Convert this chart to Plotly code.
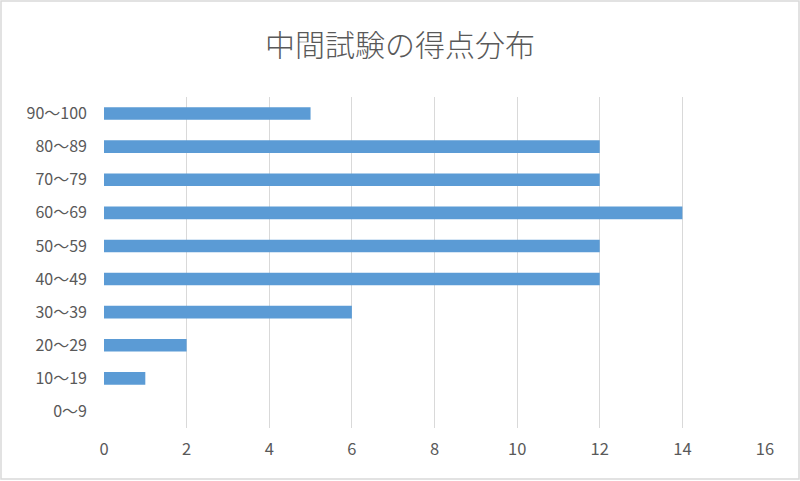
import plotly.graph_objects as go

# 得点区分と人数
categories = ['0〜9', '10〜19', '20〜29', '30〜39', '40〜49',
              '50〜59', '60〜69', '70〜79', '80〜89', '90〜100']
counts = [0, 1, 2, 6, 12, 12, 14, 12, 12, 5]
x_ticks = [0, 2, 4, 6, 8, 10, 12, 14, 16]

FONT = "Noto Sans CJK JP, Noto Sans, sans-serif"
GRAY = "#595959"

fig = go.Figure()
fig.add_trace(go.Bar(
    x=counts,
    y=categories,
    orientation='h',
    marker=dict(color='#5b9bd5', line=dict(width=0)),
    hoverinfo='x+y',
))

# 余白（ピクセル）
L, R, T, B = 104, 35, 97, 53
W, H = 800 - L - R, 481 - T - B

fig.update_layout(
    width=800, height=481,
    title=dict(text="中間試験の得点分布", x=0.5, xanchor='center', y=0.905, yanchor='middle',
               font=dict(family=FONT, size=30, color=GRAY, weight=300)),
    font=dict(family=FONT, size=16, color=GRAY),
    plot_bgcolor='white', paper_bgcolor='white',
    bargap=0.62,
    showlegend=False,
    margin=dict(l=L, r=R, t=T, b=B),
    xaxis=dict(range=[0, 16], tickvals=x_ticks, showgrid=True, gridcolor='#d9d9d9',
               gridwidth=1, zeroline=False, showline=False, ticks='',
               tickfont=dict(size=16.5, color=GRAY), ticklabelstandoff=9),
    yaxis=dict(categoryorder='array', categoryarray=categories, showgrid=False,
               zeroline=False, showline=False, ticks='',
               tickfont=dict(size=16, color=GRAY), ticklabelstandoff=16),
    shapes=[dict(type='rect', xref='paper', yref='paper',
                 x0=(1 - L) / W, x1=(799 - L) / W,
                 y0=(T + H - 479) / H, y1=(T + H - 1) / H,
                 line=dict(color='#d9d9d9', width=1.5), layer='below')],
)

# ブラウザ既定の余白をなくす
fig.write_html("out.html", config={'displayModeBar': False},
               post_script="document.body.style.margin='0';")
